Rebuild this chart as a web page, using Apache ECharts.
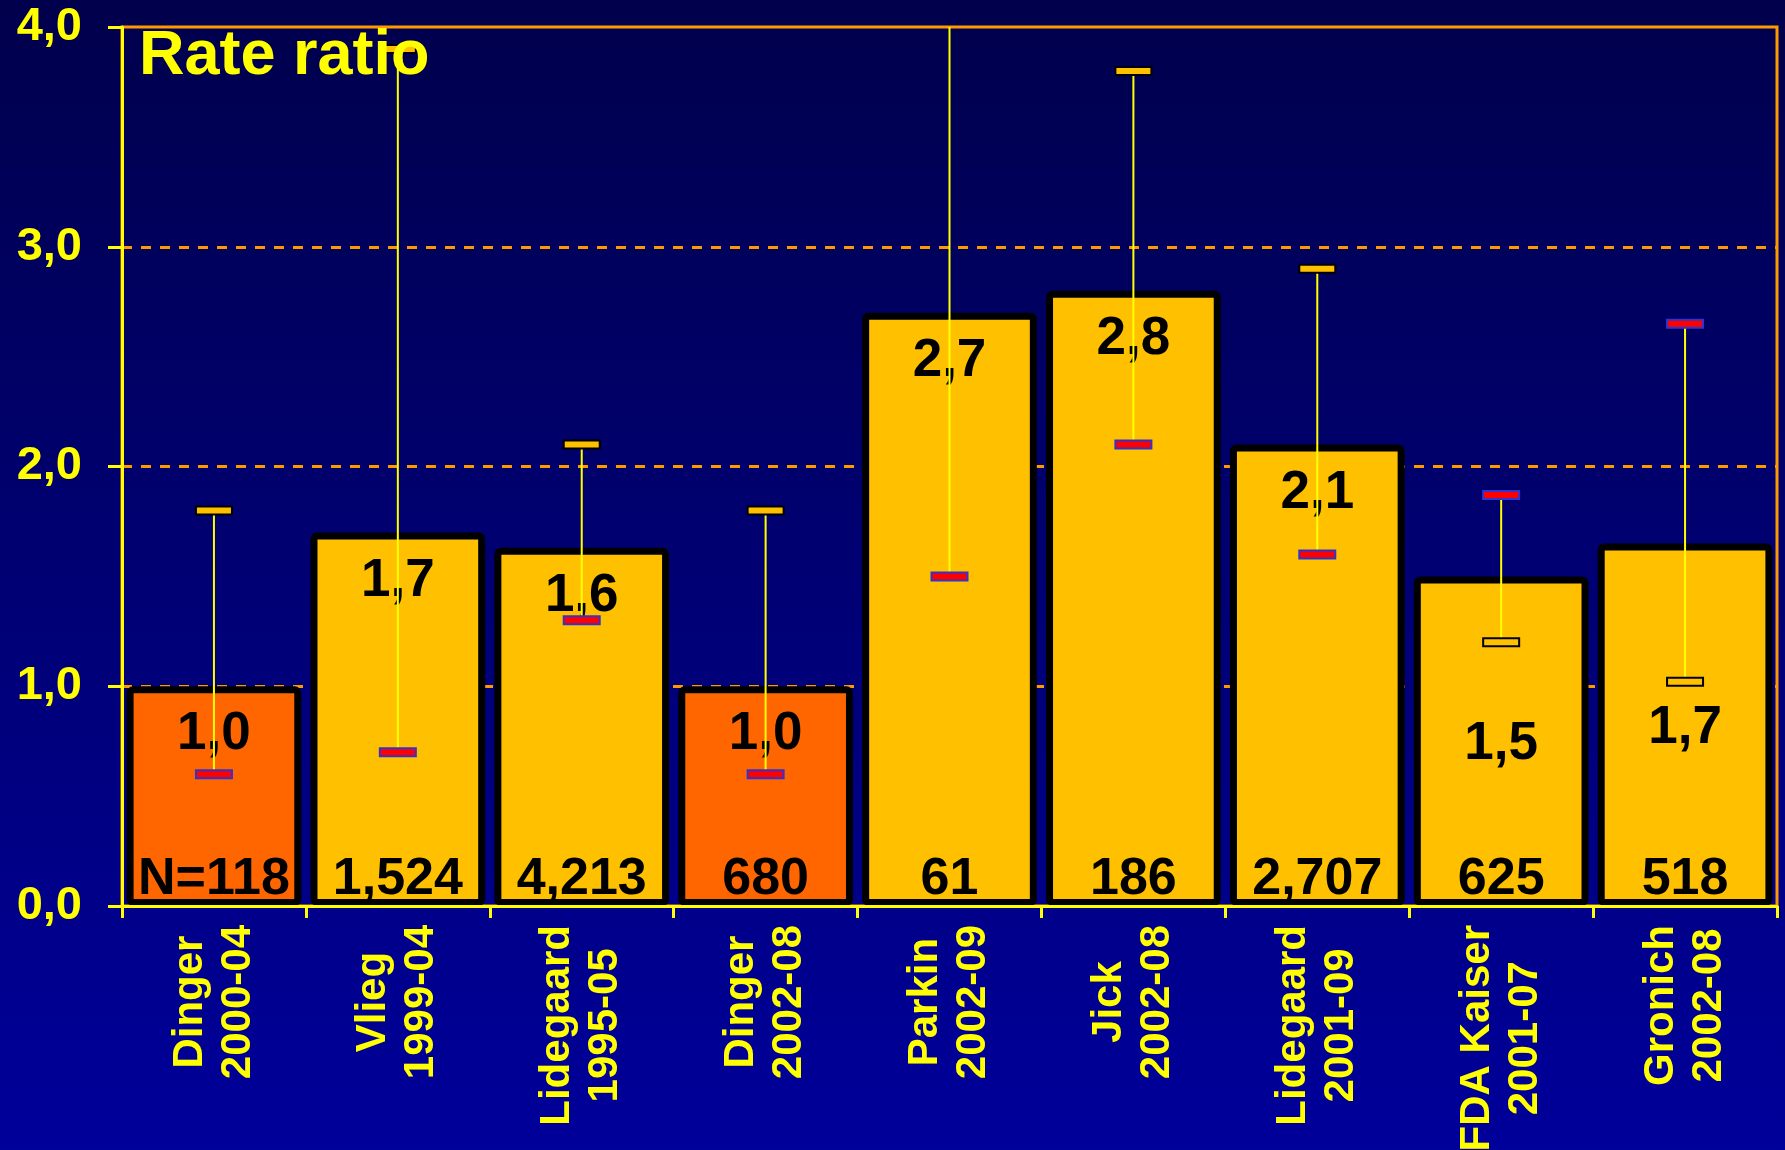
<!DOCTYPE html>
<html>
<head>
<meta charset="utf-8">
<script src="https://cdn.jsdelivr.net/npm/echarts@6/dist/echarts.min.js"></script>
<style>
  html, body { margin: 0; padding: 0; background: #000070; }
  #chart { width: 1785px; height: 1150px; }
</style>
</head>
<body>
<div id="chart"></div>
<script>
// ---- data ----
const studyNames   = ['Dinger', 'Vlieg', 'Lidegaard', 'Dinger', 'Parkin', 'Jick', 'Lidegaard', 'FDA Kaiser', 'Gronich'];
const studyPeriods = ['2000-04', '1999-04', '1995-05', '2002-08', '2002-09', '2002-08', '2001-09', '2001-07', '2002-08'];
const rateRatio    = [1.0, 1.7, 1.63, 1.0, 2.7, 2.8, 2.1, 1.5, 1.65];
const rateLabels   = ['1,0', '1,7', '1,6', '1,0', '2,7', '2,8', '2,1', '1,5', '1,7'];
const nLabels      = ['N=118', '1,524', '4,213', '680', '61', '186', '2,707', '625', '518'];
const ciLow        = [0.6, 0.7, 1.3, 0.6, 1.5, 2.1, 1.6, 1.2, 1.02];
const ciHigh       = [1.8, 3.9, 2.1, 1.8, 4.5, 3.8, 2.9, 1.87, 2.65];
const yTickLabels  = ['0,0', '1,0', '2,0', '3,0', '4,0'];
const referenceStudies = [0, 3];     // drawn in orange-red
const swappedCaps      = [7, 8];     // red cap on top, yellow cap below

// ---- chart ----
const FONT = 'Liberation Sans';
const chart = echarts.init(document.getElementById('chart'), null, { renderer: 'canvas' });

const labelOffsets = { 7: [0, 120], 8: [0, 136] };

const redCap = { fill: '#FF0000', stroke: '#3333CC', lineWidth: 2 };
const yellowCap = { fill: '#FFC000', stroke: '#000000', lineWidth: 2 };

const option = {
  animation: false,
  backgroundColor: new echarts.graphic.LinearGradient(0, 0, 0, 1, [
    { offset: 0, color: '#00004C' },
    { offset: 1, color: '#00009A' }
  ]),
  title: {
    text: 'Rate ratio',
    left: 134,
    top: 20,
    textStyle: { color: '#FFFF00', fontFamily: FONT, fontWeight: 'bold', fontSize: 63 }
  },
  grid: {
    left: 122, right: 8, top: 27, bottom: 244,
    outerBoundsMode: 'none',
    containLabel: false,
    show: true, borderColor: '#FF9900', borderWidth: 3, backgroundColor: 'transparent'
  },
  xAxis: {
    type: 'category',
    data: studyNames.map((n, i) => n + '\n' + studyPeriods[i]),
    z: 3,
    axisLine: { lineStyle: { color: '#FFFF00', width: 3 } },
    axisTick: { show: true, length: 12, lineStyle: { color: '#FFFF00', width: 3 } },
    axisLabel: {
      interval: 0,
      rotate: 90,
      margin: 19,
      formatter: (v, i) => '{a|' + studyNames[i] + '}\n{a|' + studyPeriods[i] + '}',
      rich: {
        a: { align: 'center', color: '#FFFF00', fontFamily: FONT, fontWeight: 'bold', fontSize: 42, lineHeight: 48 }
      }
    }
  },
  yAxis: {
    type: 'value',
    min: 0, max: 4, interval: 1,
    axisLine: { show: true, lineStyle: { color: '#FFFF00', width: 3 } },
    axisTick: { show: true, length: 14, lineStyle: { color: '#FFFF00', width: 3 } },
    axisLabel: {
      margin: 40,
      color: '#FFFF00', fontFamily: FONT, fontWeight: 'bold', fontSize: 47,
      formatter: v => yTickLabels[Math.round(v)]
    },
    splitLine: {
      show: true, showMinLine: false, showMaxLine: false,
      lineStyle: { color: '#FF9900', width: 3, type: [10, 9] }
    }
  },
  series: [
    {
      type: 'bar',
      barWidth: '95%',
      z: 2,
      data: rateRatio.map((v, i) => {
        const item = {
          value: v,
          itemStyle: { color: referenceStudies.includes(i) ? '#FF6600' : '#FFC000' }
        };
        if (labelOffsets[i]) item.label = { offset: labelOffsets[i] };
        return item;
      }),
      itemStyle: { borderColor: '#000000', borderWidth: 7, borderRadius: 3 },
      label: {
        show: true,
        position: 'insideTop',
        distance: 22,
        formatter: p => rateLabels[p.dataIndex],
        color: '#000000', fontFamily: FONT, fontWeight: 'bold', fontSize: 53
      }
    },
    {
      type: 'custom',
      z: 4,
      clip: true,
      silent: true,
      data: rateRatio.map((_, i) => [i, ciLow[i], ciHigh[i], swappedCaps.includes(i) ? 1 : 0]),
      encode: { x: 0, y: [1, 2] },
      renderItem: (params, api) => {
        const i = api.value(0);
        const lo = api.coord([i, api.value(1)]);
        const hi = api.coord([i, api.value(2)]);
        const swap = api.value(3) === 1;
        const capW = 36, capH = 8;
        return {
          type: 'group',
          children: [
            { type: 'line', shape: { x1: lo[0], y1: lo[1], x2: hi[0], y2: hi[1] },
              style: { stroke: '#FFFF00', lineWidth: 2 } },
            { type: 'rect', shape: { x: lo[0] - capW / 2, y: lo[1] - capH / 2, width: capW, height: capH },
              style: swap ? yellowCap : redCap },
            { type: 'rect', shape: { x: hi[0] - capW / 2, y: hi[1] - capH / 2, width: capW, height: capH },
              style: swap ? redCap : yellowCap }
          ]
        };
      }
    },
    {
      type: 'scatter',
      symbolSize: 0,
      silent: true,
      z: 5,
      itemStyle: { opacity: 1 },
      data: nLabels.map((_, i) => [i, 0]),
      label: {
        show: true,
        position: 'inside',
        offset: [0, -26],
        opacity: 1,
        formatter: p => nLabels[p.dataIndex],
        color: '#000000', fontFamily: FONT, fontWeight: 'bold', fontSize: 52
      }
    }
  ]
};

chart.setOption(option);
</script>
</body>
</html>
